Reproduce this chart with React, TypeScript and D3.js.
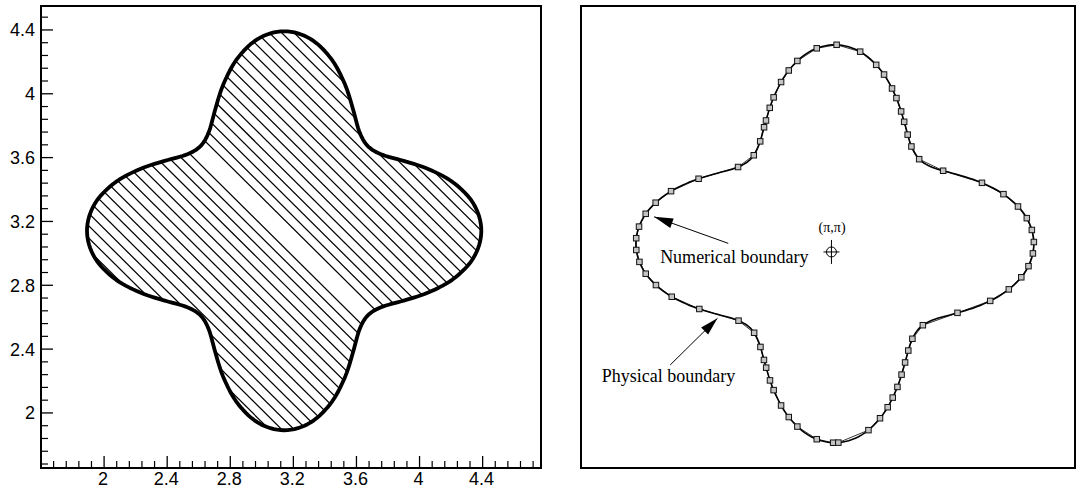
import React from 'react';
import * as d3 from 'd3';

// ---------- data ----------
const CX = Math.PI; // centre of the body (π,π)
const CY = Math.PI;
// physical boundary radius over one lobe, every 7.5° from the lobe tip
const LOBE_ANGLES = [0, 7.5, 15, 22.5, 30, 37.5, 45, 52.5, 60, 67.5, 75, 82.5];
const LOBE_RADII = [1.25, 1.217, 1.125, 1.0, 0.875, 0.783, 0.75, 0.783, 0.875, 1.0, 1.125, 1.217];
const LOBE_COUNT = 4;

// numerical boundary markers (polar angle, degrees)
const MARKER_ANGLES = [
  0.5, 4, 7.6, 11.5, 16.4, 22.5, 34, 45.1, 51.8, 56.3, 60.4, 63.4, 67.1, 69.8, 73.8, 77, 82.5, 89.5,
  95.3, 101.6, 104.9, 108.4, 112.7, 115.6, 119.2, 121.3, 126.1, 132.5, 141.6, 154.5, 162.2, 167.1,
  171, 175, 178.4, 181.8, 185.3, 189, 193, 198, 205.7, 218.6, 227.8, 234.2, 238.6, 241, 244.6,
  247.3, 251.6, 255.1, 258.4, 264.7, 269.5, 271, 280.2, 284.5, 287.9, 290.6, 293.6, 297, 300.6,
  304.5, 309.2, 317.2, 330.6, 339.8, 345.3, 349.8, 353.4, 357.2,
];

// contour levels (signed distance across the stripes from the centre)
const CONTOURS_LOW = [-0.075, -0.13, -0.185, -0.24, -0.295, -0.35, -0.405, -0.46, -0.515, -0.57, -0.625, -0.68, -0.735, -0.79, -0.845, -0.9, -0.955];
const CONTOURS_HIGH = [0.05, 0.105, 0.16, 0.215, 0.27, 0.325, 0.38, 0.435, 0.49, 0.545, 0.6, 0.655, 0.71, 0.765, 0.82, 0.875, 0.93];
const STRIPE_NORMAL = [0.7, 0.714];

const X_TICKS = [2, 2.4, 2.8, 3.2, 3.6, 4, 4.4];
const Y_TICKS = [2, 2.4, 2.8, 3.2, 3.6, 4, 4.4];
const X_TICK_LABELS = ['2', '2.4', '2.8', '3.2', '3.6', '4', '4.4'];
const Y_TICK_LABELS = ['2', '2.4', '2.8', '3.2', '3.6', '4', '4.4'];
const MINOR_STEP = 0.08;

const CENTER_MARK = [3.12, 3.09];

// ---------- helpers ----------
const TABLE: number[] = [];
for (let k = 0; k < LOBE_COUNT; k++) TABLE.push(...LOBE_RADII);
const STEP = 360 / TABLE.length;

function radiusAt(deg: number) {
  const n = TABLE.length;
  const u = (((deg % 360) + 360) % 360) / STEP;
  const i = Math.floor(u);
  const t = u - i;
  const p0 = TABLE[(i - 1 + n) % n];
  const p1 = TABLE[i % n];
  const p2 = TABLE[(i + 1) % n];
  const p3 = TABLE[(i + 2) % n];
  return 0.5 * (2 * p1 + (-p0 + p2) * t + (2 * p0 - 5 * p1 + 4 * p2 - p3) * t * t + (-p0 + 3 * p1 - 3 * p2 + p3) * t * t * t);
}
function polar(deg: number): [number, number] {
  const r = radiusAt(deg);
  const a = (deg * Math.PI) / 180;
  return [CX + r * Math.cos(a), CY + r * Math.sin(a)];
}

function arrowHead(tail: [number, number], tip: [number, number], len: number, half: number) {
  const dx = tip[0] - tail[0];
  const dy = tip[1] - tail[1];
  const L = Math.hypot(dx, dy);
  const ux = dx / L, uy = dy / L;
  const bx = tip[0] - ux * len, by = tip[1] - uy * len;
  return `${tip[0]},${tip[1]} ${bx - uy * half},${by + ux * half} ${bx + uy * half},${by - ux * half}`;
}

export default function App() {
  const xL = d3.scaleLinear().domain([1.6, 4.77]).range([41, 541]);
  const yL = d3.scaleLinear().domain([1.655, 4.55]).range([468, 6]);
  const xR = d3.scaleLinear().domain([1.547, 4.656]).range([581, 1076]);
  const yR = d3.scaleLinear().domain([1.733, 4.635]).range([468, 6]);

  const smoothPts = d3.range(0, 360, 1).map(polar);
  const markerPts = MARKER_ANGLES.map(polar);

  const mkLine = (xs: any, ys: any, curve: any) =>
    d3.line<[number, number]>().x((d) => xs(d[0])).y((d) => ys(d[1])).curve(curve);

  const physL = mkLine(xL, yL, d3.curveLinearClosed)(smoothPts) as string;
  const physR = mkLine(xR, yR, d3.curveLinearClosed)(smoothPts) as string;
  const numR = mkLine(xR, yR, d3.curveLinearClosed)(markerPts) as string;

  const [nx, ny] = STRIPE_NORMAL;
  const dirx = ny, diry = -nx;
  const contourPaths = [...CONTOURS_LOW, ...CONTOURS_HIGH].map((c) => {
    const pts: [number, number][] = [-2, 2].map((t) => [CX + c * nx + t * dirx, CY + c * ny + t * diry]);
    return mkLine(xL, yL, d3.curveLinear)(pts) as string;
  });

  const xMinor = d3.range(0, 40).map((k) => +(1.68 + k * MINOR_STEP).toFixed(2)).filter((v) => v <= 4.76 && !X_TICKS.some((m) => Math.abs(m - v) < 1e-6));
  const yMinor = d3.range(0, 40).map((k) => +(1.68 + k * MINOR_STEP).toFixed(2)).filter((v) => v <= 4.54 && !Y_TICKS.some((m) => Math.abs(m - v) < 1e-6));

  const x0 = xL.range()[0], x1 = xL.range()[1];
  const y0 = yL.range()[0], y1 = yL.range()[1];

  const numTail: [number, number] = [xR(2.472), yR(3.144)];
  const numTip: [number, number] = [xR(2.006), yR(3.311)];
  const phyTail: [number, number] = [xR(2.107), yR(2.38)];
  const phyTip: [number, number] = [xR(2.404), yR(2.673)];
  const cmx = xR(CENTER_MARK[0]);
  const cmy = yR(CENTER_MARK[1]);

  return (
    <svg width={1078} height={492} style={{ position: 'absolute', left: 0, top: 0, background: '#fff' }}>
      <defs>
        <clipPath id="bodyClip">
          <path d={physL} />
        </clipPath>
      </defs>
      <rect x={0} y={0} width={1078} height={492} fill="#fff" />

      {/* ---------- left panel ---------- */}
      <g clipPath="url(#bodyClip)">
        {contourPaths.map((d, i) => (
          <path key={i} d={d} fill="none" stroke="#000" strokeWidth={1.25} />
        ))}
      </g>
      <path d={physL} fill="none" stroke="#000" strokeWidth={3.8} strokeLinejoin="round" />

      <rect x={x0} y={y1} width={x1 - x0} height={y0 - y1} fill="none" stroke="#000" strokeWidth={2} />
      {Y_TICKS.map((v) => (
        <line key={'ym' + v} x1={x0} x2={x0 + 12} y1={yL(v)} y2={yL(v)} stroke="#000" strokeWidth={1.3} />
      ))}
      {yMinor.map((v) => (
        <line key={'yn' + v} x1={x0} x2={x0 + 7} y1={yL(v)} y2={yL(v)} stroke="#000" strokeWidth={1.2} />
      ))}
      {X_TICKS.map((v) => (
        <line key={'xm' + v} x1={xL(v)} x2={xL(v)} y1={y0} y2={y0 - 12} stroke="#000" strokeWidth={1.3} />
      ))}
      {xMinor.map((v) => (
        <line key={'xn' + v} x1={xL(v)} x2={xL(v)} y1={y0} y2={y0 - 7} stroke="#000" strokeWidth={1.2} />
      ))}
      <g fontFamily="'Liberation Sans', Arial, sans-serif" fontSize={18} fill="#000">
        {Y_TICKS.map((v, i) => (
          <text key={'yl' + v} x={x0 - 6} y={yL(v)} dy="0.36em" textAnchor="end">
            {Y_TICK_LABELS[i]}
          </text>
        ))}
        {X_TICKS.map((v, i) => (
          <text key={'xl' + v} x={xL(v) - 1} y={485} textAnchor="middle">
            {X_TICK_LABELS[i]}
          </text>
        ))}
      </g>

      {/* ---------- right panel ---------- */}
      <rect x={581} y={6} width={1075 - 581} height={462} fill="none" stroke="#000" strokeWidth={2} />
      <path d={physR} fill="none" stroke="#000" strokeWidth={1.6} />
      <path d={numR} fill="none" stroke="#000" strokeWidth={0.8} />
      {markerPts.map((p, i) => (
        <rect key={i} x={xR(p[0]) - 2.75} y={yR(p[1]) - 2.75} width={5.5} height={5.5} fill="#c4c4c4" stroke="#111" strokeWidth={1} />
      ))}

      <circle cx={cmx} cy={cmy} r={5} fill="none" stroke="#000" strokeWidth={1} />
      <line x1={cmx - 8} x2={cmx + 8} y1={cmy} y2={cmy} stroke="#000" strokeWidth={1} />
      <line x1={cmx} x2={cmx} y1={cmy - 12} y2={cmy + 12} stroke="#000" strokeWidth={1} />

      <g fontFamily="'Liberation Serif', 'Times New Roman', serif" fill="#000">
        <text x={xR(3.124)} y={yR(3.215)} fontSize={14} textAnchor="middle">(π,π)</text>
        <text x={xR(2.044)} y={yR(3.02)} fontSize={18}>Numerical boundary</text>
        <text x={xR(1.678)} y={yR(2.275)} fontSize={18}>Physical boundary</text>
      </g>

      <line x1={numTail[0]} y1={numTail[1]} x2={numTip[0]} y2={numTip[1]} stroke="#000" strokeWidth={1} />
      <polygon points={arrowHead(numTail, numTip, 19, 5)} fill="#000" />
      <line x1={phyTail[0]} y1={phyTail[1]} x2={phyTip[0]} y2={phyTip[1]} stroke="#000" strokeWidth={1} />
      <polygon points={arrowHead(phyTail, phyTip, 18, 5)} fill="#000" />
    </svg>
  );
}
